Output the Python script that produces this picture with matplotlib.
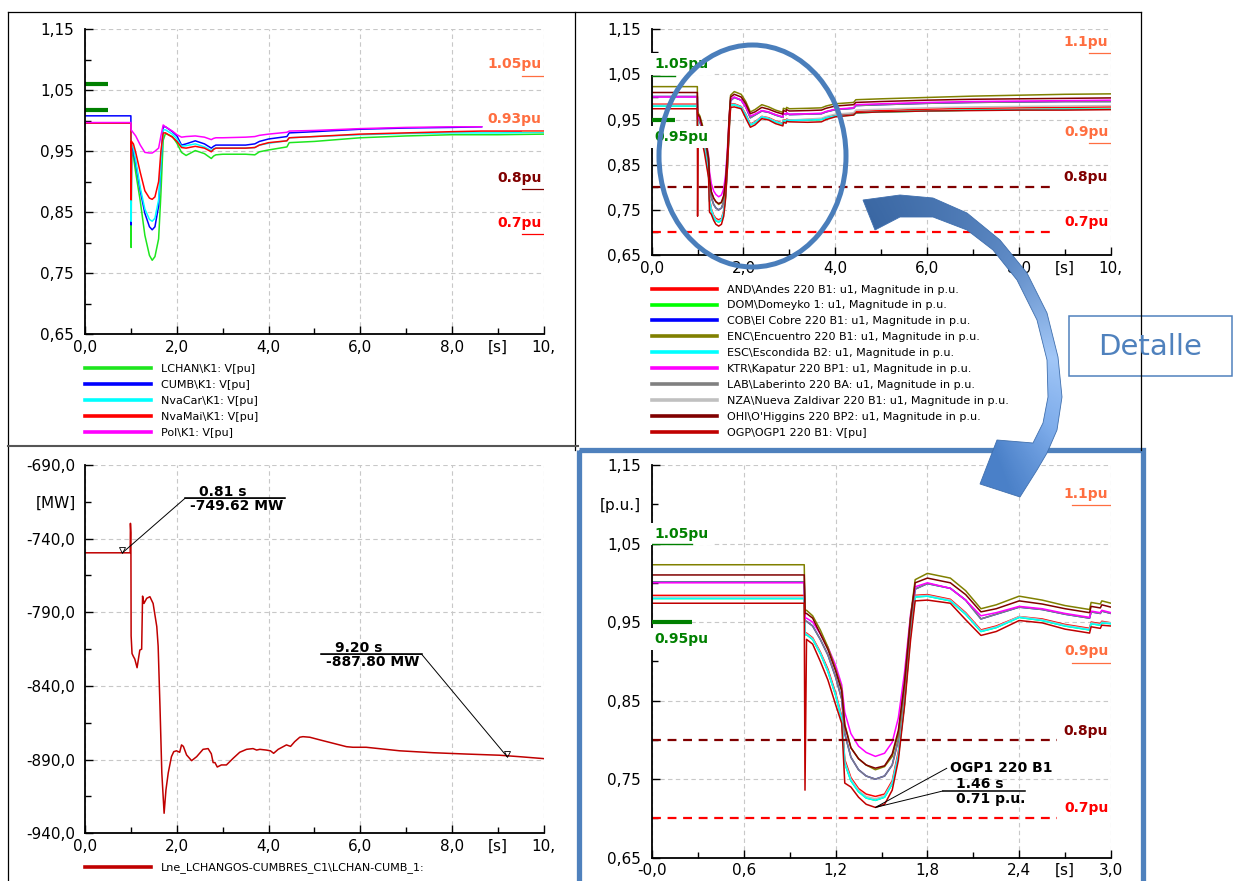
import numpy as np
import matplotlib
matplotlib.use("Agg")
import matplotlib.pyplot as plt
from matplotlib.lines import Line2D
from matplotlib.patches import Ellipse, Rectangle, Polygon
from matplotlib.colors import LinearSegmentedColormap

plt.rcParams["font.family"] = ["DejaVu Sans"]

# ---------------- top-left: K1 bus voltages [pu] ----------------
t_k1 = [0.0, 0.995, 1.0, 1.01, 1.05, 1.1, 1.2, 1.3, 1.4, 1.46,
        1.52, 1.6, 1.65, 1.7, 1.75, 1.9, 2.0, 2.1, 2.2, 2.4,
        2.6, 2.75, 2.8, 2.85, 3.0, 3.5, 3.7, 3.8, 4.0, 4.4,
        4.45, 5.0, 6.0, 7.0, 8.0, 8.65, 9.0, 10.0]
v_lchan = [0.996, 0.996, 0.792, 0.952, 0.941, 0.915, 0.868, 0.812, 0.779, 0.771,
           0.777, 0.806, 0.880, 0.968, 0.979, 0.974, 0.963, 0.948, 0.943, 0.951,
           0.946, 0.938, 0.942, 0.944, 0.945, 0.945, 0.944, 0.949, 0.952, 0.957,
           0.964, 0.966, 0.972, 0.975, 0.977, 0.977, 0.977, 0.978]
v_cumb = [1.008, 1.008, 0.829, 0.958, 0.950, 0.930, 0.885, 0.848, 0.826, 0.821,
          0.826, 0.860, 0.930, 0.990, 0.990, 0.982, 0.975, 0.960, 0.962, 0.967,
          0.962, 0.955, 0.958, 0.960, 0.960, 0.960, 0.962, 0.966, 0.970, 0.974,
          0.980, 0.982, 0.986, 0.988, 0.989, 0.990, np.nan, np.nan]
v_nvacar = [0.996, 0.996, 0.835, 0.962, 0.955, 0.935, 0.890, 0.855, 0.838, 0.835,
            0.840, 0.870, 0.930, 0.985, 0.985, 0.978, 0.970, 0.958, 0.959, 0.962,
            0.957, 0.951, 0.954, 0.955, 0.955, 0.955, 0.956, 0.960, 0.963, 0.967,
            0.972, 0.974, 0.977, 0.979, 0.980, 0.980, 0.980, 0.981]
v_nvamai = [0.996, 0.996, 0.870, 0.966, 0.962, 0.948, 0.915, 0.885, 0.873, 0.871,
            0.875, 0.900, 0.950, 0.980, 0.980, 0.973, 0.966, 0.956, 0.955, 0.958,
            0.955, 0.949, 0.953, 0.955, 0.955, 0.955, 0.956, 0.960, 0.964, 0.967,
            0.972, 0.974, 0.978, 0.980, 0.982, 0.983, 0.983, 0.983]
v_pol = [0.997, 0.997, 0.985, 0.984, 0.980, 0.975, 0.960, 0.948, 0.947, 0.947,
         0.950, 0.955, 0.975, 0.993, 0.990, 0.983, 0.977, 0.973, 0.974, 0.975,
         0.973, 0.969, 0.971, 0.972, 0.972, 0.973, 0.974, 0.976, 0.978, 0.981,
         0.983, 0.984, 0.987, 0.989, 0.990, 0.990, np.nan, np.nan]
k1_labels = ["LCHAN\\K1: V[pu]", "CUMB\\K1: V[pu]", "NvaCar\\K1: V[pu]",
             "NvaMai\\K1: V[pu]", "Pol\\K1: V[pu]"]
k1_colors = ["#1ee61e", "#0000ff", "#00ffff", "#ff0000", "#ff00ff"]

# ---------------- 220 kV buses [p.u.] (top-right and detail) ----------------
t_bus = [0.0, 0.995, 1.0, 1.01, 1.05, 1.1, 1.15, 1.2, 1.24, 1.26,
         1.3, 1.35, 1.4, 1.46, 1.52, 1.57, 1.61, 1.65, 1.69, 1.72,
         1.8, 1.95, 2.05, 2.15, 2.25, 2.4, 2.55, 2.7, 2.86, 2.87,
         2.93, 2.94, 3.0, 3.4, 3.7, 3.8, 4.0, 4.4, 4.45, 5.0,
         6.0, 7.0, 8.0, 9.0, 10.0]
v_enc = [1.023, 1.023, 0.965, 0.965, 0.958, 0.940, 0.918, 0.890, 0.865, 0.820,
         0.790, 0.776, 0.768, 0.762, 0.766, 0.779, 0.808, 0.872, 0.957, 1.004,
         1.012, 1.006, 0.990, 0.967, 0.972, 0.983, 0.978, 0.971, 0.966, 0.975,
         0.973, 0.977, 0.974, 0.975, 0.976, 0.980, 0.985, 0.988, 0.994, 0.996,
         0.999, 1.002, 1.004, 1.006, 1.007]
v_ohi = [1.010, 1.010, 0.961, 0.961, 0.955, 0.935, 0.915, 0.888, 0.862, 0.818,
         0.790, 0.776, 0.768, 0.764, 0.767, 0.782, 0.812, 0.872, 0.955, 1.000,
         1.006, 1.000, 0.985, 0.963, 0.967, 0.977, 0.973, 0.967, 0.962, 0.970,
         0.968, 0.972, 0.969, 0.970, 0.971, 0.975, 0.980, 0.983, 0.988, 0.990,
         0.993, 0.995, 0.996, 0.997, 0.998]
v_ktr = [1.000, 1.000, 0.955, 0.955, 0.950, 0.935, 0.918, 0.895, 0.870, 0.835,
         0.808, 0.792, 0.784, 0.779, 0.783, 0.797, 0.828, 0.885, 0.960, 0.995,
         1.000, 0.993, 0.978, 0.958, 0.962, 0.970, 0.967, 0.961, 0.956, 0.964,
         0.962, 0.965, 0.962, 0.963, 0.964, 0.968, 0.973, 0.976, 0.983, 0.985,
         0.988, 0.990, 0.991, 0.992, 0.993]
v_lab = [1.001, 1.001, 0.951, 0.951, 0.945, 0.928, 0.908, 0.880, 0.852, 0.808,
         0.778, 0.762, 0.754, 0.750, 0.754, 0.768, 0.800, 0.860, 0.945, 0.992,
         0.999, 0.993, 0.978, 0.954, 0.960, 0.969, 0.966, 0.960, 0.955, 0.963,
         0.961, 0.964, 0.961, 0.962, 0.963, 0.967, 0.972, 0.975, 0.981, 0.983,
         0.986, 0.988, 0.989, 0.990, 0.990]
v_and = [0.984, 0.984, 0.936, 0.936, 0.930, 0.912, 0.890, 0.860, 0.830, 0.775,
         0.752, 0.738, 0.731, 0.728, 0.731, 0.748, 0.785, 0.850, 0.940, 0.984,
         0.985, 0.979, 0.962, 0.940, 0.945, 0.957, 0.954, 0.947, 0.942, 0.950,
         0.948, 0.951, 0.949, 0.950, 0.951, 0.955, 0.960, 0.963, 0.968, 0.970,
         0.973, 0.975, 0.976, 0.977, 0.978]
v_esc = [0.980, 0.980, 0.934, 0.934, 0.928, 0.910, 0.887, 0.857, 0.826, 0.770,
         0.748, 0.734, 0.726, 0.723, 0.727, 0.744, 0.780, 0.845, 0.935, 0.982,
         0.983, 0.977, 0.960, 0.938, 0.943, 0.956, 0.952, 0.945, 0.940, 0.948,
         0.946, 0.949, 0.948, 0.949, 0.950, 0.954, 0.958, 0.960, 0.965, 0.967,
         0.969, 0.971, 0.972, 0.973, 0.973]
v_nza = [0.982, 0.982, 0.935, 0.935, 0.929, 0.911, 0.888, 0.858, 0.828, 0.772,
         0.750, 0.736, 0.728, 0.725, 0.729, 0.746, 0.782, 0.848, 0.938, 0.983,
         0.984, 0.978, 0.961, 0.939, 0.944, 0.957, 0.953, 0.946, 0.941, 0.949,
         0.947, 0.950, 0.949, 0.951, 0.953, 0.957, 0.962, 0.965, 0.971, 0.973,
         0.976, 0.978, 0.979, 0.980, 0.981]
v_ogp = [0.974, 0.974, 0.736, 0.928, 0.922, 0.900, 0.876, 0.845, 0.821, 0.745,
         0.740, 0.727, 0.718, 0.714, 0.718, 0.736, 0.774, 0.842, 0.927, 0.977,
         0.978, 0.974, 0.953, 0.933, 0.938, 0.952, 0.949, 0.941, 0.936, 0.944,
         0.942, 0.946, 0.945, 0.944, 0.945, 0.950, 0.956, 0.960, 0.965, 0.967,
         0.969, 0.970, 0.971, 0.971, 0.972]
v_dom = v_esc   # hidden under ESC in the picture
v_cob = v_lab   # hidden under LAB in the picture
bus_labels = ["AND\\Andes 220 B1: u1, Magnitude in p.u.",
              "DOM\\Domeyko 1: u1, Magnitude in p.u.",
              "COB\\El Cobre 220 B1: u1, Magnitude in p.u.",
              "ENC\\Encuentro 220 B1: u1, Magnitude in p.u.",
              "ESC\\Escondida B2: u1, Magnitude in p.u.",
              "KTR\\Kapatur 220 BP1: u1, Magnitude in p.u.",
              "LAB\\Laberinto 220 BA: u1, Magnitude in p.u.",
              "NZA\\Nueva Zaldivar 220 B1: u1, Magnitude in p.u.",
              "OHI\\O'Higgins 220 BP2: u1, Magnitude in p.u.",
              "OGP\\OGP1 220 B1: V[pu]"]
bus_colors = ["#ff0000", "#00ff00", "#0000ff", "#808000", "#00ffff",
              "#ff00ff", "#808080", "#c0c0c0", "#800000", "#c00000"]
bus_values = [v_and, v_dom, v_cob, v_enc, v_esc, v_ktr, v_lab, v_nza, v_ohi, v_ogp]
bus_order = [1, 2, 0, 7, 4, 6, 5, 3, 8, 9]   # drawing order

# ---------------- bottom-left: line active power [MW] ----------------
t_line = [0.0, 0.98, 0.985, 0.995, 1.0, 1.02, 1.05, 1.08, 1.13, 1.19,
          1.23, 1.25, 1.28, 1.34, 1.41, 1.48, 1.56, 1.59, 1.63, 1.67,
          1.72, 1.76, 1.81, 1.88, 1.93, 1.99, 2.06, 2.1, 2.14, 2.21,
          2.32, 2.43, 2.57, 2.68, 2.75, 2.79, 2.83, 2.88, 2.97, 3.08,
          3.23, 3.37, 3.52, 3.66, 3.74, 3.81, 3.95, 4.04, 4.11, 4.21,
          4.39, 4.48, 4.57, 4.68, 4.75, 4.9, 5.12, 5.41, 5.7, 5.84,
          6.13, 6.86, 7.59, 8.31, 9.04, 9.48, 10.0]
p_line = [-749.6, -749.6, -729.6, -736.0, -806.0, -818.0, -820.0, -821.7, -827.6, -815.6,
          -815.0, -779.0, -784.0, -780.5, -779.4, -784.0, -799.7, -813.0, -854.0, -899.0,
          -926.4, -910.6, -899.0, -888.0, -884.6, -884.0, -885.0, -880.0, -881.0, -886.8,
          -890.7, -888.0, -883.0, -882.5, -886.0, -892.0, -892.0, -895.0, -893.6, -893.6,
          -889.0, -885.0, -883.0, -882.5, -883.5, -883.0, -883.5, -884.0, -885.7, -883.0,
          -880.0, -881.0, -877.8, -874.8, -874.4, -874.8, -876.6, -878.9, -881.2, -881.6,
          -881.6, -884.0, -885.3, -886.2, -887.0, -888.0, -889.3]
line_label = "Lne_LCHANGOS-CUMBRES_C1\\LCHAN-CUMB_1:"

# ---------------- ticks ----------------
pu_ticks = [0.65, 0.75, 0.85, 0.95, 1.05, 1.15]
pu_ticklabels = ["0,65", "0,75", "0,85", "0,95", "1,05", "1,15"]
pu_minor = [0.70, 0.80, 0.90, 1.00, 1.10]
s10_ticks = [0, 2, 4, 6, 8, 10]
s10_ticklabels = ["0,0", "2,0", "4,0", "6,0", "8,0", "10,"]
s10_minor = [1, 3, 5, 7, 9]
s3_ticks = [0.0, 0.6, 1.2, 1.8, 2.4, 3.0]
s3_ticklabels = ["-0,0", "0,6", "1,2", "1,8", "2,4", "3,0"]
s3_minor = [0.3, 0.9, 1.5, 2.1, 2.7]
mw_ticks = [-940, -890, -840, -790, -740, -690]
mw_ticklabels = ["-940,0", "-890,0", "-840,0", "-790,0", "-740,0", "-690,0"]
mw_minor = [-915, -865, -815, -765, -715]

CORAL, DKRED, RED, GREEN = "#ff6e40", "#800000", "#ff0000", "#008000"

W, H = 1236, 881
fig = plt.figure(figsize=(W / 100, H / 100), dpi=100)
fig.patch.set_facecolor("white")


def px_axes(left, top, right, bottom):
    return fig.add_axes([left / W, 1 - bottom / H, (right - left) / W, (bottom - top) / H])


def setup(ax, xlim, xt, xtl, xm, xunit, ylim, yt, ytl, ym, yunit):
    ax.set_xlim(*xlim)
    ax.set_ylim(*ylim)
    ax.set_xticks(xt)
    ax.set_xticklabels(xtl)
    ax.set_xticks(xm, minor=True)
    ax.set_xticklabels([""] * (len(xm) - 1) + [xunit], minor=True)
    ax.set_yticks(yt)
    ax.set_yticklabels(ytl)
    ax.set_yticks(ym, minor=True)
    ax.set_yticklabels([""] * (len(ym) - 1) + [yunit], minor=True)
    for s in ("top", "right"):
        ax.spines[s].set_visible(False)
    for s in ("left", "bottom"):
        ax.spines[s].set_linewidth(1.3)
    ax.tick_params(which="major", direction="in", length=6, width=1, labelsize=11)
    ax.tick_params(which="minor", direction="in", length=4, width=1, labelsize=11)
    ax.tick_params(axis="x", which="both", pad=4)
    ax.tick_params(axis="y", which="both", pad=8)
    ax.grid(True, which="major", color="#c8c8c8", linestyle=(0, (4, 3)), linewidth=0.8)


def legend(ax, labels, colors, y):
    handles = [Line2D([], [], color=c, lw=2.6) for c in colors]
    ax.legend(handles, labels, loc="upper left", bbox_to_anchor=(0, y), frameon=False,
              fontsize=8, handlelength=5.9, handletextpad=0.9, labelspacing=0.53,
              borderpad=0, borderaxespad=0)


def tag(ax, x, y, text, color, ha="right", box=False):
    kw = dict(ha=ha, va="center", fontsize=10, fontweight="bold", color=color, zorder=5)
    if box:
        kw["bbox"] = dict(boxstyle="square,pad=0.3", facecolor="white", edgecolor="none")
    ax.text(x, y, text, **kw)


# ---------- top-left ----------
ax1 = px_axes(85.3, 29.3, 543.5, 334)
setup(ax1, (0, 10), s10_ticks, s10_ticklabels, s10_minor, "[s]",
      (0.65, 1.15), pu_ticks, pu_ticklabels, pu_minor, "")
for vals, c in zip([v_lchan, v_cumb, v_nvacar, v_nvamai, v_pol], k1_colors):
    ax1.plot(t_k1, vals, color=c, lw=1.1)
ax1.plot([0, 0.5], [1.06, 1.06], color=GREEN, lw=3, solid_capstyle="butt")
ax1.plot([0, 0.5], [1.017, 1.017], color=GREEN, lw=3, solid_capstyle="butt")
for txt, col, ty, ly in [("1.05pu", CORAL, 1.0926, 1.0733), ("0.93pu", CORAL, 1.0028, 0.9831),
                         ("0.8pu", DKRED, 0.9065, 0.8875), ("0.7pu", RED, 0.8326, 0.8136)]:
    tag(ax1, 9.96, ty, txt, col)
    ax1.plot([9.52, 10.0], [ly, ly], color=col, lw=0.9)
legend(ax1, k1_labels, k1_colors, -0.099)

# ---------- top-right ----------
ax2 = px_axes(651.7, 29.3, 1110.5, 255)
setup(ax2, (0, 10), s10_ticks, s10_ticklabels, s10_minor, "[s]",
      (0.65, 1.15), pu_ticks, pu_ticklabels, pu_minor, "")
for i in bus_order:
    ax2.plot(t_bus, bus_values[i], color=bus_colors[i], lw=1.1)
ax2.plot([0, 8.8], [0.8, 0.8], color=DKRED, lw=1.6, linestyle=(0, (4, 3)))
ax2.plot([0, 8.8], [0.7, 0.7], color=RED, lw=1.6, linestyle=(0, (4, 3)))
for txt, col, ty in [("1.1pu", CORAL, 1.1225), ("0.9pu", CORAL, 0.922),
                     ("0.8pu", DKRED, 0.822), ("0.7pu", RED, 0.722)]:
    tag(ax2, 9.95, ty, txt, col)
ax2.plot([9.54, 10.0], [1.098, 1.098], color=CORAL, lw=0.9)
ax2.plot([9.54, 10.0], [0.8975, 0.8975], color=CORAL, lw=0.9)
tag(ax2, 0.05, 1.0725, "1.05pu", GREEN, ha="left", box=True)
tag(ax2, 0.05, 0.912, "0.95pu", GREEN, ha="left", box=True)
ax2.plot([0, 0.5], [1.046, 1.046], color=GREEN, lw=1.0, zorder=6)
ax2.plot([0, 0.5], [0.949, 0.949], color=GREEN, lw=3, solid_capstyle="butt", zorder=6)
legend(ax2, bus_labels, bus_colors, -0.131)

# ---------- bottom-left ----------
ax3 = px_axes(85.3, 465, 543.5, 833.3)
setup(ax3, (0, 10), s10_ticks, s10_ticklabels, s10_minor, "[s]",
      (-940, -690), mw_ticks, mw_ticklabels, mw_minor, "[MW]")
ax3.tick_params(axis="y", which="both", pad=7)
ax3.plot(t_line, p_line, color="#c00000", lw=1.1)
ax3.plot([0.81, 2.176, 4.356], [-749.62, -712.6, -712.6], color="black", lw=0.7)
ax3.plot([2.176, 4.356], [-712.6, -712.6], color="black", lw=1.1)
ax3.plot(0.81, -748.0, marker="v", ms=4, mfc="none", mec="black", mew=0.6)
ax3.text(3.0, -708.1, "0.81 s", ha="center", va="center", fontsize=10, fontweight="bold")
ax3.text(3.3, -717.6, "-749.62 MW", ha="center", va="center", fontsize=10, fontweight="bold")
ax3.plot([9.20, 7.342, 5.145], [-887.80, -818.5, -818.5], color="black", lw=0.7)
ax3.plot([5.145, 7.342], [-818.5, -818.5], color="black", lw=1.1)
ax3.plot(9.20, -886.2, marker="v", ms=4, mfc="none", mec="black", mew=0.6)
ax3.text(5.958, -814.4, "9.20 s", ha="center", va="center", fontsize=10, fontweight="bold")
ax3.text(6.275, -823.9, "-887.80 MW", ha="center", va="center", fontsize=10, fontweight="bold")
legend(ax3, [line_label], ["#c00000"], -0.079)

# ---------- bottom-right (detail) ----------
ax4 = px_axes(652, 465, 1111, 857.7)
setup(ax4, (0, 3), s3_ticks, s3_ticklabels, s3_minor, "[s]",
      (0.65, 1.15), pu_ticks, pu_ticklabels, pu_minor, "[p.u.]")
for i in bus_order:
    ax4.plot(t_bus, bus_values[i], color=bus_colors[i], lw=1.1)
ax4.plot([0, 2.645], [0.8, 0.8], color=DKRED, lw=1.6, linestyle=(0, (4, 3)))
ax4.plot([0, 2.645], [0.7, 0.7], color=RED, lw=1.6, linestyle=(0, (4, 3)))
for txt, col, ty in [("1.1pu", CORAL, 1.1135), ("0.9pu", CORAL, 0.9131),
                     ("0.8pu", DKRED, 0.8117), ("0.7pu", RED, 0.7128)]:
    tag(ax4, 2.982, ty, txt, col)
ax4.plot([2.743, 3.0], [1.099, 1.099], color=CORAL, lw=0.9)
ax4.plot([2.743, 3.0], [0.8983, 0.8983], color=CORAL, lw=0.9)
tag(ax4, 0.013, 1.062, "1.05pu", GREEN, ha="left", box=True)
tag(ax4, 0.013, 0.9284, "0.95pu", GREEN, ha="left", box=True)
ax4.plot([0, 0.26], [1.05, 1.05], color=GREEN, lw=1.0, zorder=6)
ax4.plot([0, 0.26], [0.95, 0.95], color=GREEN, lw=3, solid_capstyle="butt", zorder=6)
ax4.plot([1.926, 1.46, 1.90], [0.7638, 0.714, 0.7349], color="black", lw=0.7)
ax4.plot([1.90, 2.438], [0.7349, 0.7349], color="black", lw=1.1)
ax4.text(1.948, 0.7645, "OGP1 220 B1", ha="left", va="center", fontsize=10, fontweight="bold")
ax4.text(2.14, 0.7434, "1.46 s", ha="center", va="center", fontsize=10, fontweight="bold")
ax4.text(2.214, 0.7243, "0.71 p.u.", ha="center", va="center", fontsize=10, fontweight="bold")

# ---------- overlay: frames, highlight ellipse, curved arrow, "Detalle" ----------
ov = fig.add_axes([0, 0, 1, 1], zorder=10)
ov.patch.set_visible(False)
ov.axis("off")

ov.plot([8, 1141], [12, 12], color="black", lw=0.9)
ov.plot([8, 8], [12, 881], color="black", lw=0.9)
ov.plot([575, 575], [12, 450], color="black", lw=0.9)
ov.plot([1141, 1141], [12, 450], color="black", lw=0.9)
ov.plot([8, 578], [446, 446], color="#555555", lw=1.5)
ov.add_patch(Rectangle((579, 450), 564, 440, fill=False, edgecolor="#4f81bd", lw=3.8))

ov.add_patch(Ellipse((752.5, 156), 187, 222, fill=False, edgecolor="#4a7ebb", lw=3.6))

arrow_xy = [(863, 200), (900, 195), (933, 198), (967, 213), (1000, 240), (1027, 273),
            (1047, 313), (1058, 357), (1062, 397), (1057, 430), (1047, 453), (1037, 470),
            (1020, 497), (980, 484), (997, 440),
            (1033, 443), (1043, 423), (1048, 397), (1047, 360), (1037, 320), (1017, 280),
            (993, 250), (967, 230), (933, 217), (900, 217), (875, 230)]
arrow = Polygon(arrow_xy, closed=True, facecolor="none", edgecolor="#3f6fae", lw=0.6, zorder=3)
ov.add_patch(arrow)
gx, gy = np.meshgrid(np.linspace(855, 1070, 216), np.linspace(185, 505, 321))
ang = np.degrees(np.arctan2(gy - 345, gx - 955))
shade = np.clip((ang + 125) / 195, 0, 1)
cmap = LinearSegmentedColormap.from_list(
    "arw", [(0, "#3a67a3"), (0.35, "#5f8bc6"), (0.68, "#a2c7f7"), (0.85, "#7fadeb"), (1, "#4a80c8")])
im = ov.imshow(shade, cmap=cmap, vmin=0, vmax=1, extent=(855, 1070, 505, 185),
               origin="upper", interpolation="bilinear", zorder=2)
im.set_clip_path(arrow)

ov.add_patch(Rectangle((1069, 316), 163, 60, facecolor="white", edgecolor="#4f81bd", lw=1.1))
ov.text(1150.5, 347, "Detalle", ha="center", va="center", fontsize=21, color="#4f81bd")

ov.set_aspect("auto")
ov.set_xlim(0, W)
ov.set_ylim(H, 0)

fig.savefig("out.png", dpi=100)
